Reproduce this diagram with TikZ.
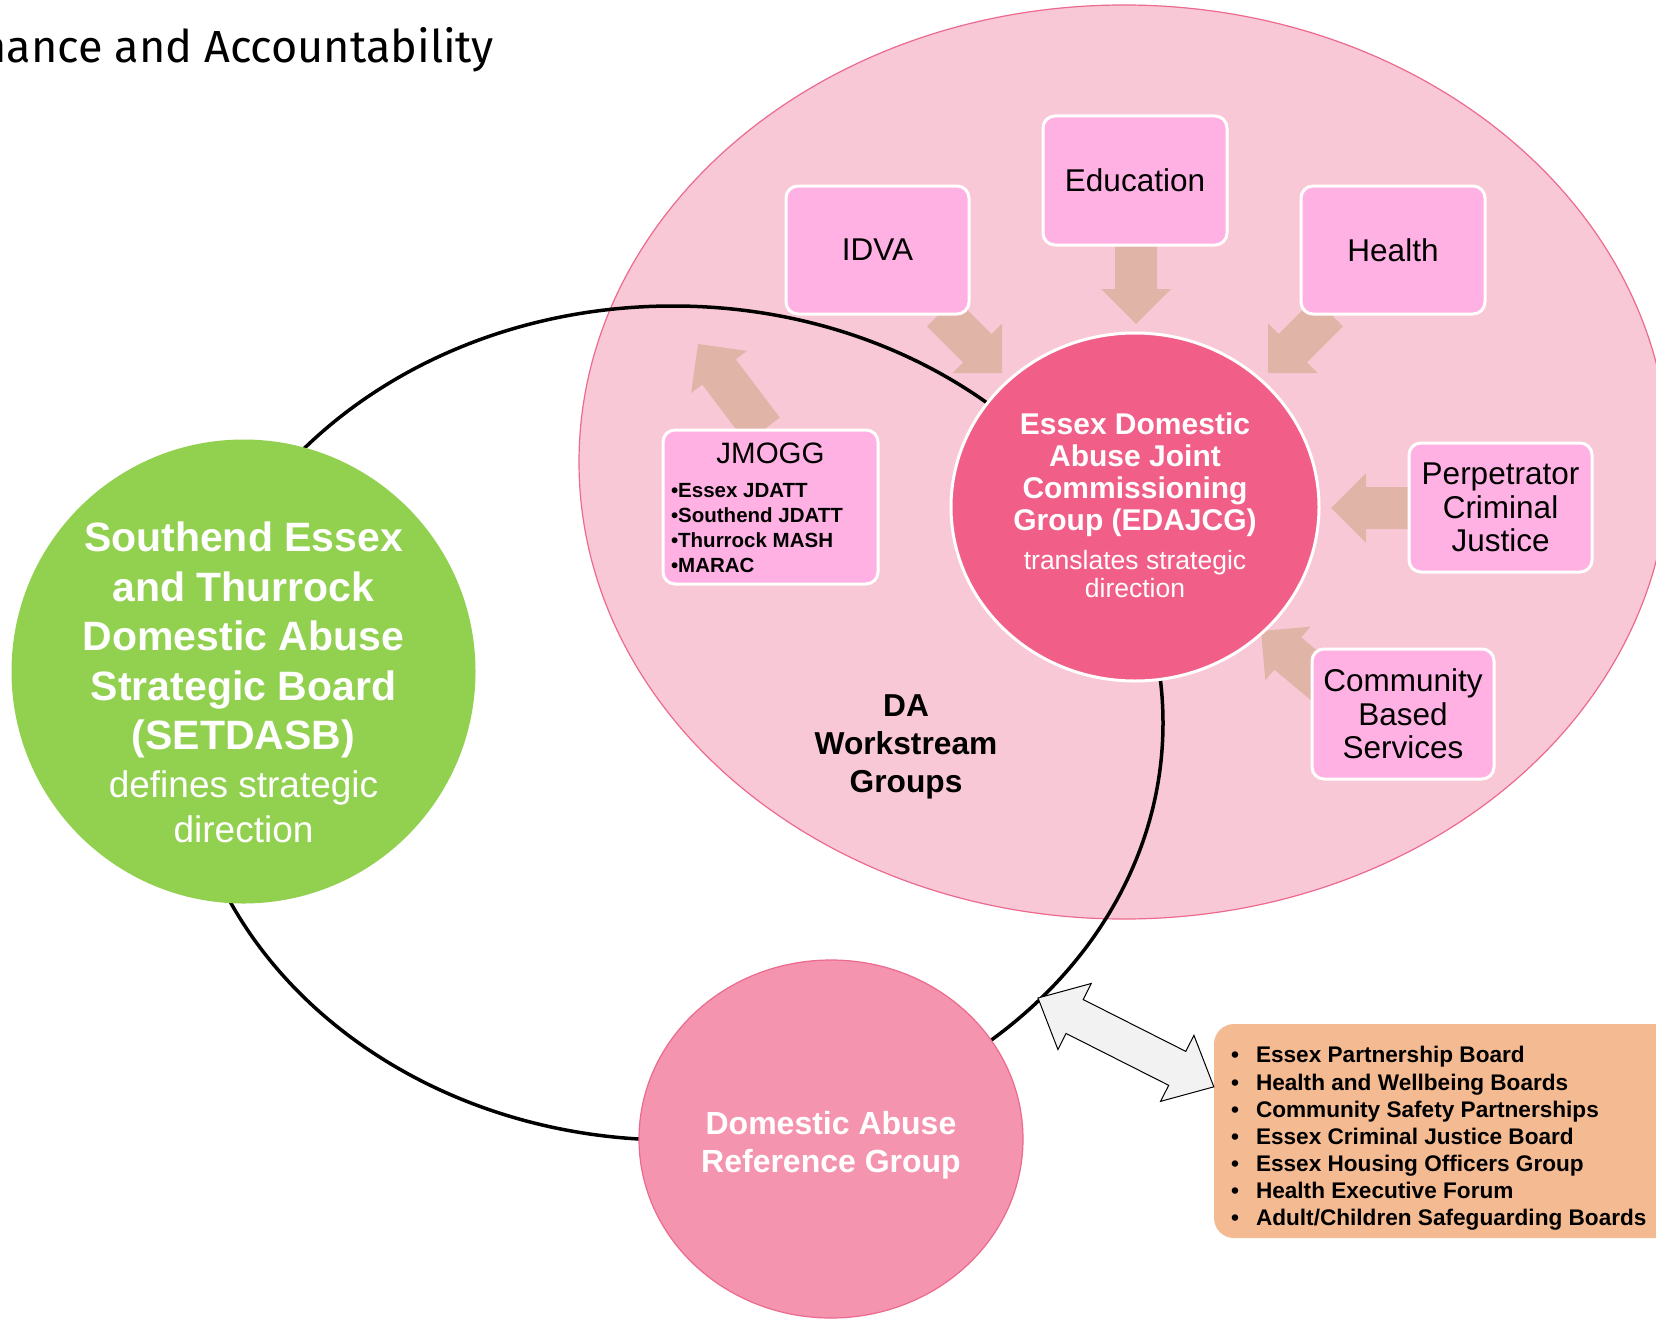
\documentclass[tikz,border=0pt]{standalone}
\usepackage{fontspec}
\setmainfont{Liberation Sans}
\newfontfamily\titlefont{Fira Sans}
\usetikzlibrary{shapes.geometric}
\definecolor{pinkbg}{HTML}{F9C8D6}
\definecolor{pinkedge}{HTML}{EC6A8E}
\definecolor{boxpink}{HTML}{FFB1E3}
\definecolor{arrowfill}{HTML}{E0B5A8}
\definecolor{edajcg}{HTML}{F15E87}
\definecolor{darefc}{HTML}{F594AF}
\definecolor{sgreen}{HTML}{92D050}
\definecolor{orangebox}{HTML}{F4BA92}
\definecolor{dblgray}{HTML}{F2F2F2}
\newcommand\barr[5]{\begin{scope}[shift={#1},rotate=#2]
  \fill[arrowfill] (0,0) -- (-35,#5) -- (-35,#4) -- (-#3,#4) -- (-#3,-#4) -- (-35,-#4) -- (-35,-#5) -- cycle;
\end{scope}}
\begin{document}
\begin{tikzpicture}[x=1pt,y=-1pt,
  every node/.style={inner sep=0pt, outer sep=0pt},
  wbox/.style={draw=white, line width=3pt, fill=boxpink, rounded corners=12pt, align=center,
     font=\fontsize{31.5}{33.5}\selectfont},
  ctext/.style={text=white, align=center}]
\useasboundingbox (0,0) rectangle (1656,1319);
\fill[white] (0,0) rectangle (1656,1319);

% title
\node[anchor=base east, font=\titlefont\fontsize{45}{52}\selectfont] (title) at (494,63) {nance and Accountability};

% big pink ellipse
\node[ellipse, draw=pinkedge, line width=1.2pt, fill=pinkbg, minimum width=1090pt, minimum height=914pt] (workstream) at (1124,462) {};

% black ellipse
\node[ellipse, draw=black, line width=3.5pt, minimum width=980pt, minimum height=834pt] (loop) at (673,723) {};

% block arrows
\barr{(1136,324)}{-90}{82}{21}{35}
\barr{(1002,373)}{-45}{86}{20}{35}
\barr{(1268,373)}{-135}{86}{20}{35}
\barr{(1331,508)}{180}{82}{21}{35}
\barr{(1261,631)}{140}{82}{21}{35}
\barr{(698,344)}{127}{108}{21}{35}

% central circle
\node[ellipse, draw=white, line width=3pt, fill=edajcg, minimum width=368pt, minimum height=348pt] (edajcgC) at (1135,507) {};
\node[ctext, font=\bfseries\fontsize{30}{30.7}\selectfont] (edajcgT) at (1135,476) {\strut Essex Domestic\\ \strut Abuse Joint\\ \strut Commissioning\\ \strut Group (EDAJCG)};
\node[ctext, font=\fontsize{26.5}{28}\selectfont] (edajcgS) at (1135,577.4) {\strut translates strategic\\ \strut direction};

% boxes
\node[wbox, minimum width=184pt, minimum height=129pt] (education) at (1135,180.5) {Education};
\node[wbox, minimum width=183pt, minimum height=128pt] (idva) at (877.5,250) {IDVA};
\node[wbox, minimum width=184pt, minimum height=128pt] (health) at (1393,250) {Health};
\node[wbox, minimum width=183pt, minimum height=129pt] (perp) at (1500.5,507.5) {Perpetrator\\Criminal\\Justice};
\node[wbox, minimum width=182pt, minimum height=130pt] (community) at (1403,714) {Community\\Based\\Services};
\node[wbox, minimum width=215pt, minimum height=154pt] (jmogg) at (770.5,507) {};
\node[anchor=base, font=\fontsize{29.5}{34}\selectfont] (jmoggT) at (770.5,463) {JMOGG};
\node[anchor=north west, align=left, font=\bfseries\fontsize{20.5}{25}\selectfont] (jmoggL) at (671,479.5)
  {\strut •Essex JDATT\\ \strut •Southend JDATT\\ \strut •Thurrock MASH\\ \strut •MARAC};

% DA workstream label
\node[align=center, font=\bfseries\fontsize{31.7}{38}\selectfont] (daws) at (906,746.4) {\strut DA\\ \strut Workstream\\ \strut Groups};

% green circle
\node[circle, fill=sgreen, minimum size=464pt] (setdasb) at (243.5,671.5) {};
\node[ctext, font=\bfseries\fontsize{41}{49.5}\selectfont] (setdasbT) at (243.5,641)
  {\strut Southend Essex\\ \strut and Thurrock\\ \strut Domestic Abuse\\ \strut Strategic Board\\ \strut (SETDASB)};
\node[ctext, font=\fontsize{37}{45}\selectfont] (setdasbS) at (243.5,810.5) {\strut defines strategic\\ \strut direction};

% DA reference group circle
\node[ellipse, draw=pinkedge, line width=1.2pt, fill=darefc, minimum width=384pt, minimum height=358pt] (darg) at (831,1139) {};
\node[ctext, font=\bfseries\fontsize{32}{38}\selectfont] (dargT) at (831,1145.4) {\strut Domestic Abuse\\ \strut Reference Group};

% orange list box
\node[fill=orangebox, rounded corners=20pt, minimum width=476pt, minimum height=214pt] (partners) at (1452,1131) {};
\node[anchor=north west, align=left, font=\bfseries\fontsize{22.6}{27.1}\selectfont] (partnersT) at (1231,1044)
  {\strut\makebox[25pt][l]{•}Essex Partnership Board\\
   \strut\makebox[25pt][l]{•}Health and Wellbeing Boards\\
   \strut\makebox[25pt][l]{•}Community Safety Partnerships\\
   \strut\makebox[25pt][l]{•}Essex Criminal Justice Board\\
   \strut\makebox[25pt][l]{•}Essex Housing Officers Group\\
   \strut\makebox[25pt][l]{•}Health Executive Forum\\
   \strut\makebox[25pt][l]{•}Adult/Children Safeguarding Boards};

% double arrow between loop and partners
\coordinate (dblL) at (1038,998);
\begin{scope}[shift={(dblL)},rotate=-26.8]
  \draw[fill=dblgray, line width=1pt, line join=miter] (0,0) -- (41,37) -- (41,19) -- (156,19) -- (156,37) -- (197,0)
     -- (156,-37) -- (156,-19) -- (41,-19) -- (41,-37) -- cycle;
\end{scope}
\end{tikzpicture}
\end{document}
